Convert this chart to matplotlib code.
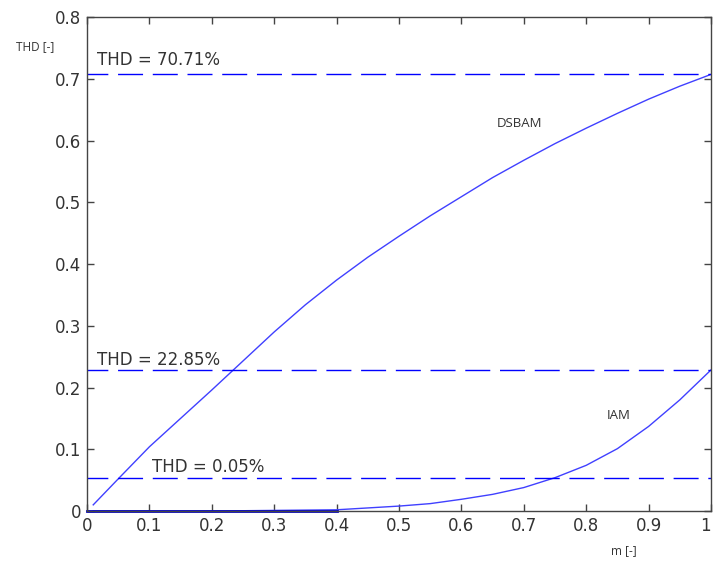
import matplotlib
matplotlib.use('Agg')
import matplotlib.pyplot as plt

# modulation index and total harmonic distortion
m = [0.01, 0.05, 0.1, 0.15, 0.2, 0.25, 0.3, 0.35, 0.4, 0.45, 0.5, 0.55,
     0.6, 0.65, 0.7, 0.75, 0.8, 0.85, 0.9, 0.95, 1.0]
thd_dsbam = [0.010, 0.052, 0.104, 0.150, 0.196, 0.243, 0.290, 0.334, 0.374,
             0.411, 0.445, 0.478, 0.509, 0.540, 0.568, 0.595, 0.620, 0.644,
             0.667, 0.688, 0.7071]
thd_iam = [0.0, 0.0, 0.0, 0.0, 0.0, 0.0005, 0.001, 0.0015, 0.002, 0.005,
           0.008, 0.012, 0.019, 0.027, 0.038, 0.054, 0.074, 0.101, 0.137,
           0.180, 0.2285]

ref_levels = [0.7071, 0.2285, 0.054]
ref_labels = ['THD = 70.71%', 'THD = 22.85%', 'THD = 0.05%']
ref_label_x = [0.016, 0.016, 0.104]
ref_label_y = [0.730, 0.245, 0.071]

fig = plt.figure(figsize=(7.13, 5.62), dpi=100)
ax = fig.add_axes([0.122, 0.0907, 0.8752, 0.879])

line_col = (0.25, 0.25, 1.0)
ax.plot(m, thd_dsbam, color=line_col, lw=1.0, clip_on=False)
ax.plot(m, thd_iam, color=line_col, lw=1.0, clip_on=False)
ax.plot([0.0, 0.4], [0.0, 0.0], color='#0000cc', lw=2.0, clip_on=False)

for lev in ref_levels:
    ax.axhline(lev, color='blue', lw=1.0, linestyle=(3, (18, 7)))

for lbl, x, y in zip(ref_labels, ref_label_x, ref_label_y):
    ax.text(x, y, lbl, fontsize=12, color='#333333', va='center', ha='left')

ax.text(0.657, 0.627, 'DSBAM', fontsize=9.5, family='Open Sans',
        color='#333333', va='center', ha='left')
ax.text(0.833, 0.155, 'IAM', fontsize=9.5, family='Open Sans',
        color='#333333', va='center', ha='left')

ax.set_xlim(0, 1)
ax.set_ylim(0, 0.8)
ax.set_xticks([0, 0.1, 0.2, 0.3, 0.4, 0.5, 0.6, 0.7, 0.8, 0.9, 1])
ax.set_xticklabels(['0', '0.1', '0.2', '0.3', '0.4', '0.5', '0.6', '0.7',
                    '0.8', '0.9', '1'])
ax.set_yticks([0, 0.1, 0.2, 0.3, 0.4, 0.5, 0.6, 0.7, 0.8])
ax.set_yticklabels(['0', '0.1', '0.2', '0.3', '0.4', '0.5', '0.6', '0.7',
                    '0.8'])
ax.tick_params(direction='in', length=5, width=1, colors='#444444',
               labelcolor='#333333', labelsize=12, top=True, right=True,
               pad=4)
# keep the last x label inside the figure edge
ax.get_xticklabels()[-1].set_horizontalalignment('right')
for sp in ax.spines.values():
    sp.set_color('#444444')
    sp.set_linewidth(1.0)

fig.text(16 / 713, 1 - 47 / 562, 'THD [-]', fontsize=8.5, family='Open Sans',
         color='#333333', va='center', ha='left')
fig.text(611 / 713, 1 - 551 / 562, 'm [-]', fontsize=8.5, family='Open Sans',
         color='#333333', va='center', ha='left')

fig.savefig('out.png', dpi=100)
